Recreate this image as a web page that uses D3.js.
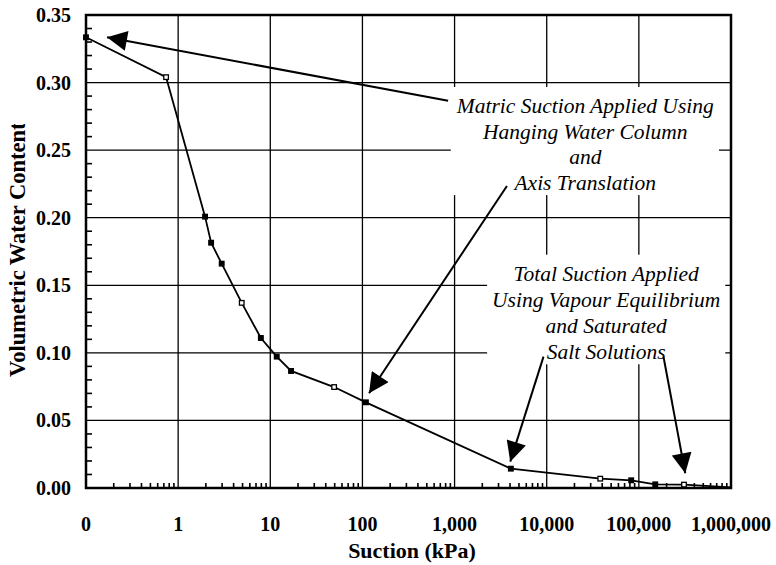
<!DOCTYPE html>
<html>
<head>
<meta charset="utf-8">
<script src="https://cdn.jsdelivr.net/npm/d3@7"></script>
<style>
  body { margin: 0; background: #fff; }
  text { font-family: "Liberation Serif", "Times New Roman", serif; }
</style>
</head>
<body>
<svg id="chart" width="776" height="565"></svg>
<script>
// suction (kPa) vs volumetric water content
const suction = [0.1, 0.74, 1.96, 2.28, 2.97, 4.9, 7.9, 11.75, 16.8, 49.3, 109, 4080, 38100, 82600, 150600, 309000, 1000000];
const waterContent = [0.3335, 0.304, 0.2008, 0.1815, 0.166, 0.137, 0.111, 0.0972, 0.0866, 0.0747, 0.0634, 0.0143, 0.0069, 0.0057, 0.0027, 0.0025, 0.0004];
const markerKind = ["solid", "open", "solid", "solid", "solid", "open", "solid", "solid", "solid", "open", "solid", "solid", "open", "solid", "solid", "open", "none"];

const xTicks = [0.1, 1, 10, 100, 1000, 10000, 100000, 1000000];
const xTickLabels = ["0", "1", "10", "100", "1,000", "10,000", "100,000", "1,000,000"];
const yTicks = [0, 0.05, 0.10, 0.15, 0.20, 0.25, 0.30, 0.35];
const yTickLabels = ["0.00", "0.05", "0.10", "0.15", "0.20", "0.25", "0.30", "0.35"];

// annotations (in data units)
const matricLines = ["Matric Suction Applied Using", "Hanging Water Column", "and", "Axis Translation"];
const totalLines = ["Total Suction Applied", "Using Vapour Equilibrium", "and Saturated", "Salt Solutions"];
const arrows = [
  { from: [851, 0.2866], to: [0.169, 0.3335] },
  { from: [3700, 0.2235], to: [118, 0.0701] },
  { from: [9230, 0.0972], to: [4020, 0.0195] },
  { from: [185000, 0.0972], to: [319000, 0.0109] }
];

const svg = d3.select("#chart");
const margin = { top: 15, right: 45, bottom: 77, left: 86 };
const width = 776 - margin.left - margin.right;
const height = 565 - margin.top - margin.bottom;

const x = d3.scaleLog().domain([0.1, 1000000]).range([0, width]);
const y = d3.scaleLinear().domain([0, 0.35]).range([height, 0]);

const g = svg.append("g").attr("transform", `translate(${margin.left},${margin.top})`);

// grid
g.append("g")
  .selectAll("line")
  .data(xTicks.slice(1, -1))
  .join("line")
  .attr("x1", d => x(d)).attr("x2", d => x(d))
  .attr("y1", 0).attr("y2", height)
  .attr("stroke", "#000").attr("stroke-width", 1.3);

g.append("g")
  .selectAll("line")
  .data(yTicks.slice(1, -1))
  .join("line")
  .attr("x1", 0).attr("x2", width)
  .attr("y1", d => y(d)).attr("y2", d => y(d))
  .attr("stroke", "#000").attr("stroke-width", 1.3);

// minor ticks, pointing inward
const minorX = [];
for (let e = -1; e < 6; e++) for (let k = 2; k <= 9; k++) minorX.push(k * Math.pow(10, e));
g.append("g")
  .selectAll("line")
  .data(minorX)
  .join("line")
  .attr("x1", d => x(d)).attr("x2", d => x(d))
  .attr("y1", height).attr("y2", height - 5)
  .attr("stroke", "#000").attr("stroke-width", 1.6);

const minorY = d3.range(1, 35).map(i => i / 100).filter(v => Math.round(v * 100) % 5 !== 0);
g.append("g")
  .selectAll("line")
  .data(minorY)
  .join("line")
  .attr("x1", 0).attr("x2", 6)
  .attr("y1", d => y(d)).attr("y2", d => y(d))
  .attr("stroke", "#000").attr("stroke-width", 1.6);

// white label boxes + text
function labelBlock(lines, cx, topY, lead) {
  const blk = g.append("g");
  const bg = blk.append("rect").attr("fill", "#fff");
  const t = blk.append("text")
    .attr("text-anchor", "middle")
    .attr("font-style", "italic")
    .attr("font-size", 21.5);
  lines.forEach((s, i) => {
    t.append("tspan").attr("x", x(cx)).attr("y", y(topY) + i * lead).text(s);
  });
  const b = t.node().getBBox();
  bg.attr("x", b.x - 5).attr("y", b.y - 7).attr("width", b.width + 10).attr("height", b.height + 7);
}
labelBlock(matricLines, 26200, 0.2775, 25.7);
labelBlock(totalLines, 44200, 0.1534, 26.2);

// arrows
svg.append("defs").append("marker")
  .attr("id", "head")
  .attr("markerUnits", "userSpaceOnUse")
  .attr("viewBox", "0 0 20 20")
  .attr("refX", 20).attr("refY", 10)
  .attr("markerWidth", 21).attr("markerHeight", 20)
  .attr("orient", "auto")
  .append("path").attr("d", "M0,0 L20,10 L0,20 Z").attr("fill", "#000");

g.append("g")
  .selectAll("line")
  .data(arrows)
  .join("line")
  .attr("x1", d => x(d.from[0])).attr("y1", d => y(d.from[1]))
  .attr("x2", d => x(d.to[0])).attr("y2", d => y(d.to[1]))
  .attr("stroke", "#000").attr("stroke-width", 2)
  .attr("marker-end", "url(#head)");

// data line
const pts = suction.map((s, i) => ({ s, w: waterContent[i], k: markerKind[i] }));
g.append("path")
  .datum(pts)
  .attr("fill", "none")
  .attr("stroke", "#000")
  .attr("stroke-width", 1.8)
  .attr("d", d3.line().x(d => x(d.s)).y(d => y(d.w)));

g.append("g")
  .selectAll("rect")
  .data(pts.filter(d => d.k !== "none"))
  .join("rect")
  .attr("x", d => x(d.s) - 2.3).attr("y", d => y(d.w) - 2.3)
  .attr("width", 4.6).attr("height", 4.6)
  .attr("fill", d => d.k === "open" ? "#fff" : "#000")
  .attr("stroke", "#000").attr("stroke-width", 1.3);

// frame
g.append("rect")
  .attr("width", width).attr("height", height)
  .attr("fill", "none").attr("stroke", "#000").attr("stroke-width", 2.5);

// tick labels
g.append("g")
  .selectAll("text")
  .data(xTicks)
  .join("text")
  .attr("x", d => x(d)).attr("y", height + 43)
  .attr("text-anchor", "middle")
  .attr("font-weight", "bold").attr("font-size", 20)
  .text((d, i) => xTickLabels[i]);

g.append("g")
  .selectAll("text")
  .data(yTicks)
  .join("text")
  .attr("x", -15).attr("y", d => y(d) + 7)
  .attr("text-anchor", "end")
  .attr("font-weight", "bold").attr("font-size", 20)
  .text((d, i) => yTickLabels[i]);

// axis titles
svg.append("text")
  .attr("x", 412).attr("y", 558)
  .attr("text-anchor", "middle")
  .attr("font-weight", "bold").attr("font-size", 22)
  .text("Suction (kPa)");

// y title is cut off at the top in the original
svg.append("clipPath").attr("id", "ttlclip")
  .append("rect").attr("x", 0).attr("y", 124).attr("width", 40).attr("height", 400);
svg.append("g")
  .attr("clip-path", "url(#ttlclip)")
  .append("text")
  .attr("transform", "translate(25,377) rotate(-90)")
  .attr("text-anchor", "start")
  .attr("font-weight", "bold").attr("font-size", 22.5)
  .text("Volumetric Water Content");
</script>
</body>
</html>
